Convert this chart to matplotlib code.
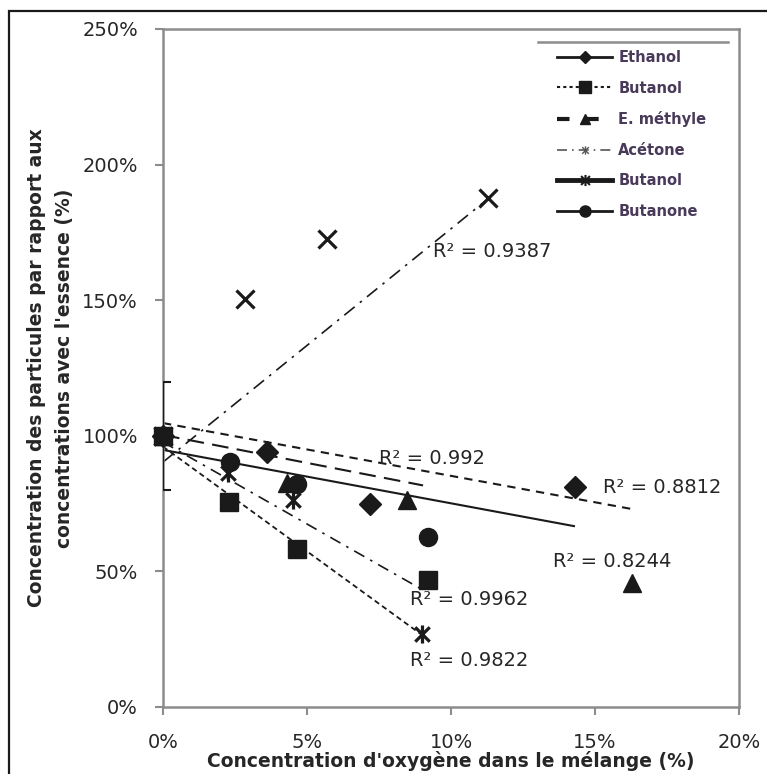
import matplotlib
matplotlib.use('Agg')
import matplotlib.pyplot as plt
from matplotlib.lines import Line2D
from matplotlib.path import Path
from matplotlib.patches import Rectangle

# Data (oxygen concentration %, particle concentration % relative to gasoline)
ethanol_x = [0, 3.6, 7.2, 14.3]
ethanol_y = [100, 94, 75, 81]
butanol_x = [0, 2.3, 4.65, 9.2]
butanol_y = [100, 75.6, 58.3, 46.8]
emethyle_x = [0, 4.3, 8.47, 16.3]
emethyle_y = [100, 82.6, 76.3, 45.7]
acetone_x = [0, 2.85, 5.7, 11.3]
acetone_y = [100, 150.4, 172.6, 187.7]
butanol2_x = [0, 2.26, 4.5, 9.0]
butanol2_y = [100, 86.3, 76.3, 26.9]
butanone_x = [0, 2.33, 4.65, 9.2]
butanone_y = [100, 90.3, 82.2, 62.7]

# Trendline end points as they appear on the chart
trend_ethanol_x, trend_ethanol_y = [0, 14.27], [94.8, 66.7]
trend_emethyle_x, trend_emethyle_y = [0, 16.28], [104.7, 73.0]
trend_butanone_x, trend_butanone_y = [0, 9.03], [100.3, 81.7]
trend_acetone_x, trend_acetone_y = [0, 11.32], [90.3, 187.7]
trend_butanol_x, trend_butanol_y = [0, 9.05], [97.7, 43.0]
trend_butanol2_x, trend_butanol2_y = [0, 9.0], [96.0, 26.5]

r2_labels = ['R² = 0.9387', 'R² = 0.992', 'R² = 0.8812', 'R² = 0.8244', 'R² = 0.9962', 'R² = 0.9822']
r2_x = [9.375, 7.5, 15.28, 13.54, 8.58, 8.58]
r2_y = [167.8, 91.8, 80.8, 53.5, 39.5, 17.0]

err_x, err_y, err_size = [0], [100], [20]

x_ticks = [0, 5, 10, 15, 20]
y_ticks = [0, 50, 100, 150, 200, 250]
legend_labels = ['Ethanol', 'Butanol', 'E. méthyle', 'Acétone', 'Butanol', 'Butanone']

W, H = 767, 774
fig = plt.figure(figsize=(W / 100, H / 100), dpi=100)
ax = fig.add_axes([163 / W, 1 - 707 / H, 576 / W, 678 / H])

ink = '#1a1a1a'
gray = '#8c8c8c'

# asterisk marker: X plus vertical bar
aster = Path([(-1, -1), (1, 1), (-1, 1), (1, -1), (0, -1.25), (0, 1.25)],
             [Path.MOVETO, Path.LINETO, Path.MOVETO, Path.LINETO, Path.MOVETO, Path.LINETO])

# trendlines
ax.plot(trend_ethanol_x, trend_ethanol_y, color=ink, lw=1.5, ls='-', zorder=2)
ax.plot(trend_emethyle_x, trend_emethyle_y, color=ink, lw=1.5, ls=(0, (4, 3)), zorder=2)
ax.plot(trend_butanone_x, trend_butanone_y, color=ink, lw=1.5, ls=(0, (8, 4)), zorder=2)
ax.plot(trend_acetone_x, trend_acetone_y, color=ink, lw=1.2, ls=(0, (8, 4, 1.5, 4)), zorder=2)
ax.plot(trend_butanol_x, trend_butanol_y, color=ink, lw=1.2, ls=(0, (7, 4, 1.5, 4)), zorder=2)
ax.plot(trend_butanol2_x, trend_butanol2_y, color=ink, lw=1.3, ls=(0, (3, 2)), zorder=2)

# error bar on the reference point
ax.errorbar(err_x, err_y, yerr=err_size, fmt='none', ecolor=ink, elinewidth=1.5,
            capsize=6, capthick=1.5, zorder=3)

# markers
ax.plot(ethanol_x, ethanol_y, ls='none', marker='D', ms=11, color=ink, clip_on=False, zorder=4)
ax.plot(emethyle_x, emethyle_y, ls='none', marker='^', ms=13, color=ink, clip_on=False, zorder=4)
ax.plot(acetone_x, acetone_y, ls='none', marker='x', ms=13, mew=2.3, color=ink, clip_on=False, zorder=4)
ax.plot(butanol2_x, butanol2_y, ls='none', marker=aster, ms=13, mew=2.3, color=ink, clip_on=False, zorder=4)
ax.plot(butanone_x, butanone_y, ls='none', marker='o', ms=13, color=ink, clip_on=False, zorder=4)
ax.plot(butanol_x, butanol_y, ls='none', marker='s', ms=13, color=ink, clip_on=False, zorder=5)

# R² labels
for lab, tx, ty in zip(r2_labels, r2_x, r2_y):
    ax.text(tx, ty, lab, fontsize=14, color='#262626', ha='left', va='center', zorder=6)

# axes formatting
ax.set_xlim(0, 20)
ax.set_ylim(0, 250)
ax.set_xticks(x_ticks)
ax.set_xticklabels([f'{t}%' for t in x_ticks])
ax.set_yticks(y_ticks)
ax.set_yticklabels([f'{t}%' for t in y_ticks])
for s in ax.spines.values():
    s.set_color(gray)
    s.set_linewidth(1.8)
ax.tick_params(axis='both', direction='out', length=6, width=1.5, color=gray,
               labelsize=14, labelcolor='#262626', pad=13)
ax.tick_params(axis='y', pad=12)

ax.set_xlabel("Concentration d'oxygène dans le mélange (%)", fontsize=13.5,
              fontweight='bold', color='#262626', labelpad=0)
ax.xaxis.set_label_coords(0.5, -(751 - 707) / 678, transform=ax.transAxes)
ax.set_ylabel("Concentration des particules par rapport aux\nconcentrations avec l'essence (%)",
              fontsize=13.5, fontweight='bold', color='#262626', linespacing=1.6)
ax.yaxis.set_label_coords(-(163 - 74) / 576, 0.5, transform=ax.transAxes)

# legend
handles = [
    Line2D([], [], color=ink, lw=2, ls='-', marker='D', ms=6),
    Line2D([], [], color=ink, lw=1.5, ls=(0, (1.5, 1.5)), marker='s', ms=8),
    Line2D([], [], color=ink, lw=3, ls=(0, (3, 4)), marker='^', ms=7),
    Line2D([], [], color='#555555', lw=1.2, ls=(0, (6, 3, 1, 3)), marker=aster, ms=6, mew=1),
    Line2D([], [], color=ink, lw=3.5, ls='-', marker=aster, ms=8, mew=1.5),
    Line2D([], [], color=ink, lw=2, ls='-', marker='o', ms=8),
]
leg = ax.legend(handles, legend_labels, loc='upper left',
                bbox_to_anchor=(557 / W, 1 - 50 / H), bbox_transform=fig.transFigure,
                frameon=False, numpoints=1, handlelength=3.8, handletextpad=0.4,
                labelspacing=1.07, borderpad=0, borderaxespad=0,
                prop={'size': 10.5, 'weight': 'bold'})
for t in leg.get_texts():
    t.set_color('#4a3a5a')

# decorative line at top of legend and outer chart frame
fig.add_artist(Line2D([538 / W, 728 / W], [1 - 42 / H, 1 - 42 / H], color=gray, lw=1.8))
fig.add_artist(Rectangle((9 / W, -0.05), 1.2, 1 - 11 / H + 0.05, transform=fig.transFigure,
                         fill=False, edgecolor=ink, lw=1.6))

fig.savefig('out.png', dpi=100, facecolor='white')
